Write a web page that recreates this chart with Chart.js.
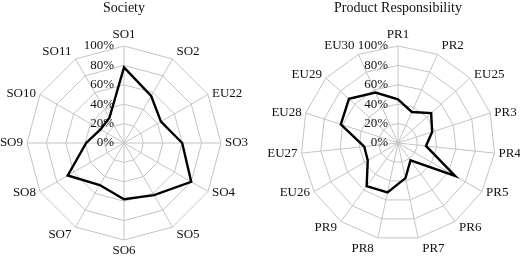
<!DOCTYPE html>
<html><head><meta charset="utf-8">
<script src="https://cdn.jsdelivr.net/npm/chart.js@4"></script>
<style>
html,body{margin:0;padding:0;background:#fff;}
#wrap{position:relative;width:520px;height:258px;overflow:hidden;background:#fff;}
canvas{position:absolute;top:0;}
</style></head><body>
<div id="wrap">
<canvas id="c1" width="260" height="258" style="left:0"></canvas>
<canvas id="c2" width="260" height="258" style="left:260px"></canvas>
</div>
<script>
const societyCategories = ['SO1','SO2','EU22','SO3','SO4','SO5','SO6','SO7','SO8','SO9','SO10','SO11'];
const societyValues = [78,56,44,60,80,62,58,50,67,39,28,30];
const productCategories = ['PR1','PR2','EU25','PR3','PR4','PR5','PR6','PR7','PR8','PR9','EU26','EU27','EU28','EU29','EU30'];
const productValues = [45,35,46,37,29,68,22,37,52,55,36,35,62,68,57];
const tickValues = [0,20,40,60,80,100];
const tickLabels = ['0%','20%','40%','60%','80%','100%'];

const FONT = '"Liberation Serif", "Times New Roman", serif';

const labelPlugin = {
  id: 'customLabels',
  beforeDatasetsDraw(chart) {
    const s = chart.scales.r; const ctx = chart.ctx;
    ctx.save();
    ctx.font = '13px ' + FONT; ctx.fillStyle = '#111';
    ctx.textAlign = 'right'; ctx.textBaseline = 'middle';
    tickValues.forEach((v, i) => {
      const d = s.getDistanceFromCenterForValue(v);
      ctx.fillText(tickLabels[i], s.xCenter - 10, s.yCenter - d);
    });
    ctx.restore();
  },
  afterDraw(chart) {
    const s = chart.scales.r; const ctx = chart.ctx;
    const labels = chart.data.labels;
    ctx.save();
    ctx.font = '13px ' + FONT; ctx.fillStyle = '#111'; ctx.textBaseline = 'middle';
    labels.forEach((lab, i) => {
      const p = s.getPointPosition(i, s.drawingArea);
      const a = s.getIndexAngle(i);
      const sn = Math.sin(a), cs = Math.cos(a);
      let x = p.x, align = 'center';
      if (sn > 0.05) { align = 'left'; x += 4; }
      else if (sn < -0.05) { align = 'right'; x -= 4; }
      const y = p.y - cs * cs * cs * 11;
      ctx.textAlign = align;
      ctx.fillText(lab, x, y);
    });
    ctx.restore();
  }
};

function makeChart(id, labels, values, title, pad) {
  return new Chart(document.getElementById(id), {
    type: 'radar',
    data: {
      labels: labels,
      datasets: [{
        data: values,
        borderColor: '#000',
        borderWidth: 2.4,
        borderJoinStyle: 'miter',
        fill: false,
        pointRadius: 0,
        pointHoverRadius: 0,
        tension: 0
      }]
    },
    options: {
      responsive: false,
      animation: false,
      devicePixelRatio: 1,
      layout: { padding: pad },
      plugins: {
        legend: { display: false },
        tooltip: { enabled: false },
        title: {
          display: true, text: title, color: '#111',
          font: { family: FONT, size: 14, weight: 'normal', lineHeight: 1.2 },
          padding: { top: 0, bottom: 28.7 }
        }
      },
      scales: {
        r: {
          min: 0, max: 100,
          ticks: { display: false, stepSize: 20 },
          pointLabels: { display: false },
          grid: { color: '#c4c4c4', lineWidth: 1, circular: false },
          angleLines: { color: '#c4c4c4', lineWidth: 1 }
        }
      }
    },
    plugins: [labelPlugin]
  });
}

makeChart('c1', societyCategories, societyValues, 'Society', { left: 26.5, right: 38.5, top: 0, bottom: 17.5 });
makeChart('c2', productCategories, productValues, 'Product Responsibility', { left: 40.5, right: 24.5, top: 0, bottom: 17.5 });
</script>
</body></html>
